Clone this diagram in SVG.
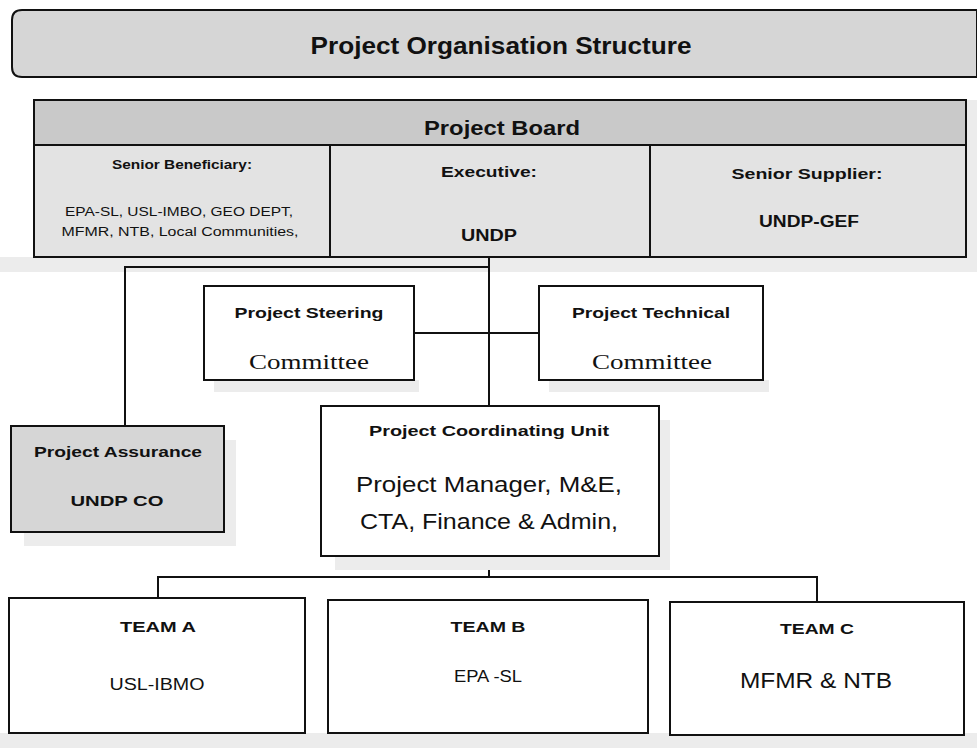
<svg xmlns="http://www.w3.org/2000/svg" width="977" height="748" viewBox="0 0 977 748">
<style>
.box{stroke:#111;stroke-width:2;fill:#fff}
.gray{fill:#d9d9d9}
.t{font-family:"Liberation Sans",Arial,sans-serif;fill:#111;text-anchor:middle}
.b{font-weight:bold}
.s{font-family:"Liberation Serif","Times New Roman",serif;fill:#111;text-anchor:middle}
.ln{stroke:#111;stroke-width:2;fill:none}
.sh{fill:#ececec}
</style>
<rect width="977" height="748" fill="#fff"/>
<g id="title">
<path d="M22 10 H977 V77 H22 Q12 77 12 67 V20 Q12 10 22 10 Z" fill="#d6d6d6" stroke="#111" stroke-width="2"/>
<text class="t b" x="501" y="54" font-size="24" textLength="381" lengthAdjust="spacingAndGlyphs">Project Organisation Structure</text>
</g>
<rect class="sh" x="0" y="257" width="977" height="15"/>
<rect class="sh" x="966" y="100" width="11" height="170"/>
<g id="board">
<rect x="34" y="100" width="932" height="157" fill="#e3e3e3" stroke="#111" stroke-width="2"/>
<rect x="34" y="100" width="932" height="45" fill="#c9c9c9" stroke="#111" stroke-width="2"/>
<line class="ln" x1="330" y1="145" x2="330" y2="257"/>
<line class="ln" x1="650" y1="145" x2="650" y2="257"/>
<text class="t b" x="502" y="135" font-size="20" textLength="156" lengthAdjust="spacingAndGlyphs">Project Board</text>
<text class="t b" x="182" y="169" font-size="12" textLength="140" lengthAdjust="spacingAndGlyphs">Senior Beneficiary:</text>
<text class="t" x="179" y="216" font-size="12" textLength="228" lengthAdjust="spacingAndGlyphs">EPA-SL, USL-IMBO, GEO DEPT,</text>
<text class="t" x="180" y="236" font-size="12" textLength="237" lengthAdjust="spacingAndGlyphs">MFMR, NTB, Local Communities,</text>
<text class="t b" x="489" y="177" font-size="15" textLength="96" lengthAdjust="spacingAndGlyphs">Executive:</text>
<text class="t b" x="489" y="241" font-size="16" textLength="56" lengthAdjust="spacingAndGlyphs">UNDP</text>
<text class="t b" x="807" y="179" font-size="15" textLength="151" lengthAdjust="spacingAndGlyphs">Senior Supplier:</text>
<text class="t b" x="809" y="227" font-size="16" textLength="100" lengthAdjust="spacingAndGlyphs">UNDP-GEF</text>
</g>
<g id="connectors">
<line class="ln" x1="489" y1="257" x2="489" y2="406"/>
<polyline class="ln" points="489,267 125,267 125,426"/>
<line class="ln" x1="414" y1="333" x2="539" y2="333"/>
<line class="ln" x1="489" y1="556" x2="489" y2="577"/>
<polyline class="ln" points="158,598 158,577 817,577 817,602"/>
</g>
<rect class="sh" x="214" y="380" width="205" height="12"/>
<rect class="sh" x="549" y="380" width="220" height="12"/>
<g id="steering">
<rect class="box" x="204" y="286" width="210" height="94"/>
<text class="t b" x="309" y="318" font-size="15" textLength="149" lengthAdjust="spacingAndGlyphs">Project Steering</text>
<text class="s" x="309" y="369" font-size="20" textLength="120" lengthAdjust="spacingAndGlyphs">Committee</text>
</g>
<g id="technical">
<rect class="box" x="539" y="286" width="224" height="94"/>
<text class="t b" x="651" y="318" font-size="15" textLength="158" lengthAdjust="spacingAndGlyphs">Project Technical</text>
<text class="s" x="652" y="369" font-size="20" textLength="120" lengthAdjust="spacingAndGlyphs">Committee</text>
</g>
<rect class="sh" x="24" y="532" width="212" height="14"/>
<rect class="sh" x="224" y="440" width="12" height="100"/>
<g id="assurance">
<rect x="11" y="426" width="213" height="106" fill="#d6d6d6" stroke="#111" stroke-width="2"/>
<text class="t b" x="118" y="457" font-size="15" textLength="168" lengthAdjust="spacingAndGlyphs">Project Assurance</text>
<text class="t b" x="117" y="506" font-size="15" textLength="93" lengthAdjust="spacingAndGlyphs">UNDP CO</text>
</g>
<rect class="sh" x="335" y="556" width="335" height="14"/>
<rect class="sh" x="659" y="420" width="11" height="140"/>
<g id="pcu">
<rect class="box" x="321" y="406" width="338" height="150"/>
<text class="t b" x="489" y="436" font-size="15" textLength="240" lengthAdjust="spacingAndGlyphs">Project Coordinating Unit</text>
<text class="t" x="489" y="492" font-size="22" textLength="266" lengthAdjust="spacingAndGlyphs">Project Manager, M&amp;E,</text>
<text class="t" x="489" y="529" font-size="22" textLength="258" lengthAdjust="spacingAndGlyphs">CTA, Finance &amp; Admin,</text>
</g>
<rect class="sh" x="0" y="733" width="977" height="15"/>
<g id="teamA">
<rect class="box" x="9" y="598" width="296" height="135"/>
<text class="t b" x="158" y="632" font-size="15" textLength="76" lengthAdjust="spacingAndGlyphs">TEAM A</text>
<text class="t" x="157" y="690" font-size="16" textLength="95" lengthAdjust="spacingAndGlyphs">USL-IBMO</text>
</g>
<g id="teamB">
<rect class="box" x="328" y="600" width="320" height="133"/>
<text class="t b" x="488" y="632" font-size="15" textLength="75" lengthAdjust="spacingAndGlyphs">TEAM B</text>
<text class="t" x="488" y="682" font-size="16" textLength="68" lengthAdjust="spacingAndGlyphs">EPA -SL</text>
</g>
<g id="teamC">
<rect class="box" x="670" y="602" width="294" height="133"/>
<text class="t b" x="817" y="634" font-size="15" textLength="74" lengthAdjust="spacingAndGlyphs">TEAM C</text>
<text class="t" x="816" y="688" font-size="22" textLength="152" lengthAdjust="spacingAndGlyphs">MFMR &amp; NTB</text>
</g>
</svg>
